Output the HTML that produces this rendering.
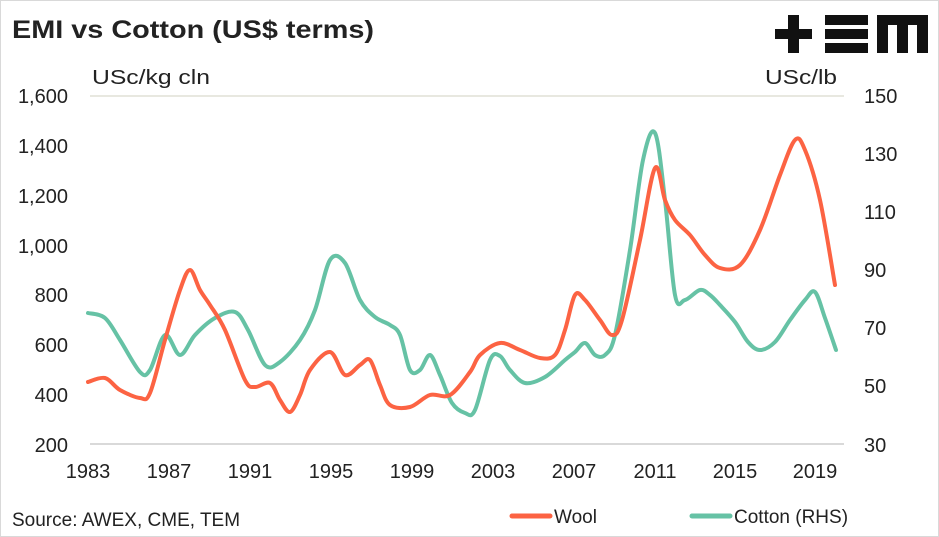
<!DOCTYPE html>
<html><head><meta charset="utf-8"><style>
body{margin:0;background:#fff;}
svg{display:block;font-family:"Liberation Sans",sans-serif;}
</style></head><body>
<svg width="939" height="537" viewBox="0 0 939 537">
<rect x="0.5" y="0.5" width="938" height="536" fill="#fff" stroke="#d9d9d9"/>
<text x="12" y="38" font-size="25" font-weight="bold" fill="#222" textLength="362" lengthAdjust="spacingAndGlyphs">EMI vs Cotton (US$ terms)</text>
<g fill="#111">
<rect x="775" y="29" width="37" height="10"/><rect x="788" y="15" width="11" height="38"/>
<rect x="825" y="15" width="43" height="10"/><rect x="825" y="29" width="43" height="10"/><rect x="825" y="43" width="43" height="10"/>
<rect x="877" y="15" width="51" height="10"/><rect x="877" y="15" width="11" height="38"/><rect x="897" y="15" width="11" height="38"/><rect x="917" y="15" width="11" height="38"/>
</g>
<text x="92" y="84" font-size="20" fill="#222" textLength="118" lengthAdjust="spacingAndGlyphs">USc/kg cln</text>
<text x="765" y="84" font-size="20" fill="#222" textLength="72" lengthAdjust="spacingAndGlyphs">USc/lb</text>
<line x1="90" y1="96" x2="844" y2="96" stroke="#e8e8e0" stroke-width="2"/>
<line x1="90" y1="444" x2="844" y2="444" stroke="#d9d9d9" stroke-width="2"/>
<g font-size="20" fill="#222" text-anchor="end">
<text x="68" y="103">1,600</text><text x="68" y="153">1,400</text><text x="68" y="203">1,200</text><text x="68" y="253">1,000</text><text x="68" y="302">800</text><text x="68" y="352">600</text><text x="68" y="402">400</text><text x="68" y="452">200</text>
</g>
<g font-size="20" fill="#222" text-anchor="start">
<text x="864" y="103">150</text><text x="864" y="161">130</text><text x="864" y="219">110</text><text x="864" y="277">90</text><text x="864" y="335">70</text><text x="864" y="393">50</text><text x="864" y="452">30</text>
</g>
<g font-size="20" fill="#222" text-anchor="middle">
<text x="88" y="478">1983</text><text x="169" y="478">1987</text><text x="250" y="478">1991</text><text x="331" y="478">1995</text><text x="412" y="478">1999</text><text x="493" y="478">2003</text><text x="574" y="478">2007</text><text x="655" y="478">2011</text><text x="735" y="478">2015</text><text x="815" y="478">2019</text>
</g>
<path id="cot" fill="none" stroke="#66c2a5" stroke-width="4" stroke-linejoin="round" stroke-linecap="round" data-p="88,313 105,318 120,340 140,372 150,370 165,335 180,355 195,335 215,318 235,312 248,330 265,365 280,362 300,340 315,310 330,260 345,263 360,300 375,317 390,325 400,335 410,370 420,370 430,355 440,375 452,403 465,413 475,410 490,360 500,356 510,370 525,383 545,377 565,360 575,352 585,343 595,355 605,355 615,335 630,250 643,160 655,133 665,200 675,295 685,300 700,290 710,295 720,305 735,322 748,342 760,350 775,342 790,320 805,300 815,292 825,318 836,350"/>
<path id="wool" fill="none" stroke="#fc6343" stroke-width="4" stroke-linejoin="round" stroke-linecap="round" data-p="88,382 105,378 120,390 140,398 150,393 165,340 180,290 190,270 200,290 210,305 225,330 245,380 255,387 270,383 280,400 290,412 300,395 310,370 330,352 345,375 360,365 370,360 380,385 390,405 410,407 430,395 450,395 470,372 480,355 500,343 520,350 540,358 555,355 565,330 575,295 585,300 600,320 612,335 622,320 640,240 655,168 665,200 675,220 690,235 705,255 720,268 740,265 760,230 780,175 795,140 805,150 820,200 835,285"/>
<text x="12" y="526" font-size="19" fill="#222">Source: AWEX, CME, TEM</text>
<line x1="512" y1="516" x2="550" y2="516" stroke="#fc6343" stroke-width="5" stroke-linecap="round"/>
<text x="554" y="523" font-size="19" fill="#222">Wool</text>
<line x1="692" y1="516" x2="730" y2="516" stroke="#66c2a5" stroke-width="5" stroke-linecap="round"/>
<text x="734" y="523" font-size="19" fill="#222">Cotton (RHS)</text>
</svg>
<script>
['cot','wool'].forEach(function(id){
 var el=document.getElementById(id);
 var p=el.getAttribute('data-p').split(' ').map(function(s){return s.split(',').map(Number);});
 var d='M'+p[0][0]+','+p[0][1];
 for(var i=0;i<p.length-1;i++){
  var a=p[Math.max(i-1,0)],b=p[i],c=p[i+1],e=p[Math.min(i+2,p.length-1)];
  var c1=[b[0]+(c[0]-a[0])/6,b[1]+(c[1]-a[1])/6],c2=[c[0]-(e[0]-b[0])/6,c[1]-(e[1]-b[1])/6];
  d+=' C'+c1[0].toFixed(1)+','+c1[1].toFixed(1)+' '+c2[0].toFixed(1)+','+c2[1].toFixed(1)+' '+c[0]+','+c[1];
 }
 el.setAttribute('d',d);
});
</script>
</body></html>
